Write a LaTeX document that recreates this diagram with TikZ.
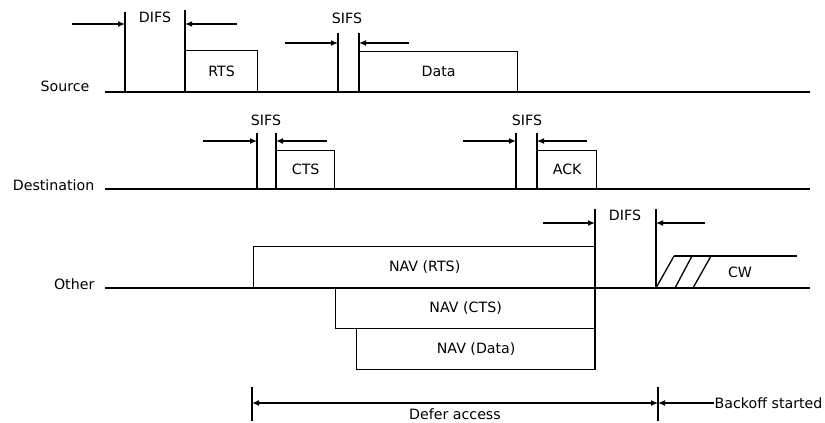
\documentclass[tikz,border=0pt]{standalone}
\usepackage{fontspec}
\setmainfont{DejaVu Sans}
\usetikzlibrary{arrows.meta}
\begin{document}
\begin{tikzpicture}[x=1pt, y=-1pt, >={Latex[length=7pt,width=6pt]}, line width=1.3pt,
        frame/.style={draw, anchor=south west, inner sep=0pt, font=\fontsize{14.2}{16}\selectfont},
        tag/.style={inner sep=0pt, font=\fontsize{14.2}{16}\selectfont}]
    \useasboundingbox (0,0) rectangle (825,423);
    % stations
    \node[tag, anchor=east] (source) at (90,86) {Source};
    \node[tag, anchor=east] (dest) at (95,185) {Destination};
    \node[tag, anchor=east] (other) at (95,284) {Other};
    \coordinate (srcL) at (105,92);  \coordinate (srcR) at (810,92);
    \coordinate (dstL) at (105,189); \coordinate (dstR) at (810,189);
    \coordinate (othL) at (105,288); \coordinate (othR) at (810,288);
    \draw (srcL) -- (srcR);
    \draw (dstL) -- (dstR);
    \draw (othL) -- (othR);

    % source: DIFS, RTS, SIFS, Data
    \draw (125,12) -- (125,92);
    \draw (185,10) -- (185,92);
    \node[tag] (difs1) at (155,17) {DIFS};
    \draw[->] (72,24) -- (125,24);
    \draw[->] (237,24) -- (185,24);
    \node[frame, minimum width=72pt, minimum height=41pt] (rts) at (185,92) {RTS};
    \draw (338,33) -- (338,92);
    \draw (359,33) -- (359,92);
    \node[tag] (sifs1) at (347,18) {SIFS};
    \draw[->] (285,43) -- (338,43);
    \draw[->] (409,43) -- (359,43);
    \node[frame, minimum width=158pt, minimum height=40pt] (data) at (359,92) {Data};

    % destination: SIFS, CTS, SIFS, ACK
    \draw (257,133) -- (257,189);
    \draw (276,133) -- (276,189);
    \node[tag] (sifs2) at (266,120) {SIFS};
    \draw[->] (203,141) -- (257,141);
    \draw[->] (327,141) -- (276,141);
    \node[frame, minimum width=58pt, minimum height=38pt] (cts) at (276,189) {CTS};
    \draw (516,133) -- (516,189);
    \draw (537,133) -- (537,189);
    \node[tag] (sifs3) at (527,120) {SIFS};
    \draw[->] (463,141) -- (516,141);
    \draw[->] (587,141) -- (537,141);
    \node[frame, minimum width=59pt, minimum height=38pt] (ack) at (537,189) {ACK};

    % other: NAV, DIFS, CW
    \node[frame, minimum width=342pt, minimum height=41pt] (navrts) at (253,288) {NAV (RTS)};
    \node[frame, minimum width=260pt, minimum height=41pt] (navcts) at (335,329) {NAV (CTS)};
    \node[frame, minimum width=239pt, minimum height=41pt] (navdata) at (356,370) {NAV (Data)};
    \draw (595,209) -- (595,370);
    \draw (656,209) -- (656,288);
    \node[tag] (difs2) at (625,215) {DIFS};
    \draw[->] (543,223) -- (595,223);
    \draw[->] (705,223) -- (656,223);
    \draw (674,256) -- (797,256);
    \foreach \a/\b in {656/674, 675/692, 693/711}
        \draw (\a,288) -- (\b,256);
    \node[tag] (cw) at (740,272) {CW};

    % defer and backoff
    \draw (252,387) -- (252,421);
    \draw (658,387) -- (658,421);
    \coordinate (deferL) at (252,403);
    \coordinate (deferR) at (658,403);
    \draw[<->] (deferL) -- node[tag, below=5pt]{Defer access} (deferR);
    \node[tag, anchor=west] (backoff) at (714,403) {Backoff started};
    \draw[->] (backoff.west) -- (deferR);
\end{tikzpicture}
\end{document}
